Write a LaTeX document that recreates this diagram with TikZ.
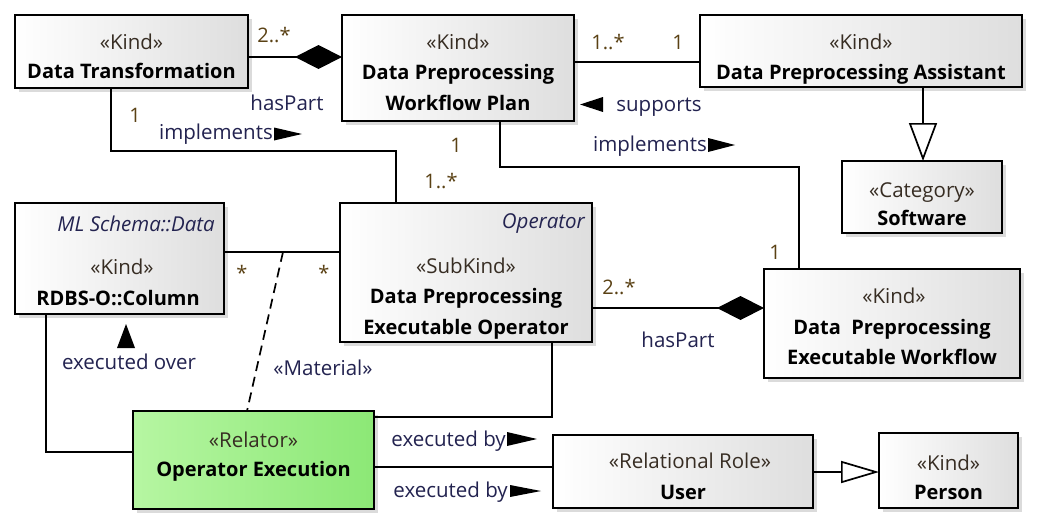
\documentclass[tikz,border=0pt]{standalone}
\usepackage{fontspec}
\setmainfont{Open Sans}
\usetikzlibrary{arrows.meta,shadows}
\definecolor{stereo}{RGB}{55,45,35}
\definecolor{mult}{RGB}{90,65,20}
\definecolor{lbl}{RGB}{35,35,80}
\definecolor{boxr}{RGB}{222,222,222}
\definecolor{gl}{RGB}{182,246,162}
\definecolor{gr}{RGB}{140,232,118}
\begin{document}
\begin{tikzpicture}[x=1pt,y=-1pt,
  box/.style={draw, line width=1.7pt, rectangle, inner sep=0pt, outer sep=0pt,
    left color=white, right color=boxr,
    drop shadow={shadow xshift=4pt, shadow yshift=-4pt, fill=black!14, opacity=1}},
  greenbox/.style={box, left color=gl, right color=gr},
  conn/.style={line width=1.7pt},
  st/.style={font=\fontsize{20.5}{24}\selectfont, text=stereo, inner sep=0pt, anchor=base},
  nm/.style={font=\fontsize{20}{24}\selectfont\bfseries, inner sep=0pt, anchor=base},
  itl/.style={font=\fontsize{20.5}{24}\selectfont\itshape, text=lbl, inner sep=0pt, anchor=base east},
  lab/.style={font=\fontsize{20.5}{24}\selectfont, text=lbl, inner sep=0pt, anchor=base},
  mul/.style={font=\fontsize{20}{24}\selectfont, text=mult, inner sep=0pt, anchor=base},
  dirtip/.style={fill=black},
  comp/.style={-{Diamond[length=47pt,width=24pt]}},
  gen/.style={-{Triangle[open,length=38pt,width=28pt,fill=white]}},
  gensm/.style={-{Triangle[open,length=38pt,width=22pt,fill=white]}}
]
\fill[white] (0,0) rectangle (1038,530);
\useasboundingbox (0,0) rectangle (1038,530);

% boxes
\node[box, minimum width=233pt, minimum height=73pt] (dt) at (131.5,51.5) {};
\node[box, minimum width=232pt, minimum height=106pt] (plan) at (458,68) {};
\node[box, minimum width=322pt, minimum height=72pt] (asst) at (861,51) {};
\node[box, minimum width=160pt, minimum height=72pt] (soft) at (922,197) {};
\node[box, minimum width=209pt, minimum height=111pt] (ml) at (119.5,258.5) {};
\node[box, minimum width=252pt, minimum height=139pt] (op) at (466,272.5) {};
\node[box, minimum width=256pt, minimum height=109pt] (wf) at (892,323.5) {};
\node[greenbox, minimum width=241pt, minimum height=98pt] (oe) at (253.5,460) {};
\node[box, minimum width=260pt, minimum height=73pt] (user) at (683,471.5) {};
\node[box, minimum width=139pt, minimum height=75pt] (person) at (948.5,470.5) {};

% box texts
\node[st] (dtS) at (131.5,49) {«Kind»};
\node[nm] (dtN) at (131.5,78) {Data Transformation};
\node[st] (planS) at (458,49) {«Kind»};
\node[nm] (planN1) at (458,79) {Data Preprocessing};
\node[nm] (planN2) at (458,110) {Workflow Plan};
\node[st] (asstS) at (861,49) {«Kind»};
\node[nm] (asstN) at (861,79) {Data Preprocessing Assistant};
\node[st] (softS) at (922,197) {«Category»};
\node[nm] (softN) at (922,225) {Software};
\node[itl] (mlP) at (215,231) {ML Schema::Data};
\node[st] (mlS) at (122,274) {«Kind»};
\node[nm] (mlN) at (118,305) {RDBS-O::Column};
\node[itl] (opP) at (585,228) {Operator};
\node[st] (opS) at (466,273) {«SubKind»};
\node[nm] (opN1) at (466,303) {Data Preprocessing};
\node[nm] (opN2) at (466,334) {Executable Operator};
\node[st] (wfS) at (894,303) {«Kind»};
\node[nm] (wfN1) at (892,334) {Data~~Preprocessing};
\node[nm] (wfN2) at (892,364) {Executable Workflow};
\node[st] (oeS) at (253.5,447) {«Relator»};
\node[nm] (oeN) at (253.5,476) {Operator Execution};
\node[st] (userS) at (690,468) {«Relational Role»};
\node[nm] (userN) at (683,499) {User};
\node[st] (personS) at (948.5,470) {«Kind»};
\node[nm] (personN) at (948.5,499) {Person};

% connectors
\draw[conn,comp] (dt.east |- 0,57) -- (plan.west |- 0,57);
\draw[conn] (plan.east |- 0,62) -- (asst.west |- 0,62);
\draw[conn,gen] (asst.south -| 923,0) -- (soft.north -| 923,0);
\draw[conn] (plan.south -| 500,0) -- (500,167) -| (wf.north -| 799,0);
\draw[conn] (dt.south -| 111,0) -- (111,151) -| (op.north -| 396,0);
\draw[conn] (ml.east |- 0,252) -- (op.west |- 0,252);
\coordinate (matA) at (283,252);
\draw[conn, dash pattern=on 10pt off 6pt] (matA) -- (oe.north -| 247,0);
\draw[conn] (ml.south -| 46,0) |- (oe.west |- 0,452);
\draw[conn] (op.south -| 552,0) |- (oe.east |- 0,417);
\draw[conn] (oe.east |- 0,467) -- (user.west |- 0,467);
\draw[conn,gensm] (user.east |- 0,472) -- (person.west |- 0,472);
\draw[conn,comp] (op.east |- 0,308) -- (wf.west |- 0,308);

% connector labels
\node[mul] (m1) at (274,42) {2..*};
\node[lab] (l1) at (287,110) {hasPart};
\node[mul] (m2) at (608,49) {1..*};
\node[mul] (m3) at (678,49) {1};
\node[lab] (l2) at (659,111) {supports};
\fill[dirtip] (580,104.5) -- (603,97) -- (603,112) -- cycle;
\node[mul] (m4) at (456,152) {1};
\node[lab, anchor=base east] (l3) at (707,151) {implements};
\fill[dirtip] (708,138) -- (735,145) -- (708,152) -- cycle;
\node[mul] (m5) at (775,259) {1};
\node[mul] (m6) at (135,122) {1};
\node[lab, anchor=base east] (l4) at (273,139) {implements};
\fill[dirtip] (274,127.5) -- (302,134) -- (274,140.5) -- cycle;
\node[mul] (m7) at (441,188) {1..*};
\node[mul, anchor=center] (m8) at (242,273) {*};
\node[mul, anchor=center] (m9) at (324,273) {*};
\node[lab] (l5) at (323,375) {«Material»};
\node[lab] (l6) at (129,369) {executed over};
\fill[dirtip] (126,324) -- (135,348) -- (117,348) -- cycle;
\node[mul] (m10) at (619,294) {2..*};
\node[lab] (l7) at (678,347) {hasPart};
\node[lab, anchor=base east] (l8) at (506,446) {executed by};
\fill[dirtip] (507,432) -- (537,439) -- (507,446) -- cycle;
\node[lab, anchor=base east] (l9) at (508,497) {executed by};
\fill[dirtip] (510,485) -- (541,491) -- (510,497) -- cycle;
\end{tikzpicture}
\end{document}
